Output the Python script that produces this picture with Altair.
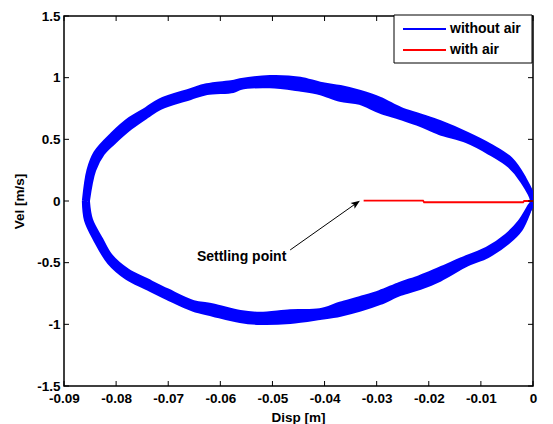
import altair as alt
import pandas as pd

# ---------------- data ----------------
x_ticks = [-0.09, -0.08, -0.07, -0.06, -0.05, -0.04, -0.03, -0.02, -0.01, 0]
y_ticks = [-1.5, -1, -0.5, 0, 0.5, 1, 1.5]

# "without air": band of limit cycles, outer and inner edge trajectories
upper_outer_x = [-0.0860, -0.0851, -0.0838, -0.0806, -0.0773, -0.0741, -0.0716, -0.0658, -0.0626, -0.0576,
                 -0.0562, -0.0505, -0.0447, -0.0409, -0.0370, -0.0332, -0.0294, -0.0255, -0.0217, -0.0179,
                 -0.0127, -0.0083, -0.0044, -0.0019, 0.0]
upper_outer_y = [0.0, 0.251, 0.389, 0.538, 0.659, 0.740, 0.808, 0.889, 0.930, 0.957,
                 0.971, 0.997, 0.984, 0.943, 0.916, 0.876, 0.821, 0.740, 0.687, 0.632,
                 0.538, 0.444, 0.335, 0.186, 0.0]
upper_inner_x = [-0.0856, -0.0844, -0.0827, -0.0806, -0.0773, -0.0741, -0.0716, -0.0658, -0.0626, -0.0576,
                 -0.0562, -0.0505, -0.0447, -0.0409, -0.0370, -0.0332, -0.0294, -0.0255, -0.0217, -0.0179,
                 -0.0127, -0.0083, -0.0044, -0.0019, 0.0]
upper_inner_y = [0.0, 0.251, 0.389, 0.478, 0.600, 0.695, 0.762, 0.843, 0.884, 0.900,
                 0.924, 0.938, 0.911, 0.884, 0.829, 0.803, 0.735, 0.681, 0.627, 0.559,
                 0.492, 0.397, 0.289, 0.162, 0.0]
lower_outer_x = [-0.0860, -0.0856, -0.0838, -0.0812, -0.0779, -0.0741, -0.0702, -0.0652, -0.0614, -0.0562,
                 -0.0524, -0.0466, -0.0409, -0.0370, -0.0332, -0.0294, -0.0255, -0.0217, -0.0179, -0.0127,
                 -0.0088, -0.0050, -0.0025, -0.0006, 0.0]
lower_outer_y = [0.0, -0.154, -0.316, -0.495, -0.616, -0.697, -0.778, -0.873, -0.914, -0.965,
                 -0.981, -0.973, -0.941, -0.914, -0.873, -0.819, -0.746, -0.697, -0.630, -0.508,
                 -0.440, -0.332, -0.225, -0.049, 0.0]
lower_inner_x = [-0.0856, -0.0850, -0.0830, -0.0812, -0.0779, -0.0741, -0.0702, -0.0652, -0.0614, -0.0562,
                 -0.0524, -0.0466, -0.0409, -0.0370, -0.0332, -0.0294, -0.0255, -0.0217, -0.0179, -0.0127,
                 -0.0088, -0.0050, -0.0025, -0.0006, 0.0]
lower_inner_y = [0.0, -0.154, -0.316, -0.448, -0.570, -0.651, -0.732, -0.827, -0.854, -0.908,
                 -0.922, -0.902, -0.894, -0.841, -0.795, -0.746, -0.679, -0.624, -0.557, -0.462,
                 -0.395, -0.286, -0.178, -0.049, 0.0]

# "with air"
air_x = [-0.0325, -0.0211, -0.0209, -0.0019, -0.0017, 0.0]
air_y = [0.003, 0.003, -0.010, -0.010, 0.0, 0.0]

# annotation
note_text = "Settling point"
note_x = [-0.0645]
note_y = [-0.486]
arrow_x = [-0.0466, -0.0340]
arrow_y = [-0.397, -0.021]

legend_labels = ["without air", "with air"]
colors = ["#0000ff", "#ff0000"]

# ---------------- build tables ----------------
def ring(ux, uy, lx, ly, name):
    px = list(ux) + list(reversed(lx))[1:]
    py = list(uy) + list(reversed(ly))[1:]
    return pd.DataFrame({"x": px, "y": py, "idx": list(range(len(px))), "ring": name})

outer_df = ring(upper_outer_x, upper_outer_y, lower_outer_x, lower_outer_y, "outer")
inner_df = ring(upper_inner_x, upper_inner_y, lower_inner_x, lower_inner_y, "inner")
air_df = pd.DataFrame({"x": air_x, "y": air_y, "idx": list(range(len(air_x)))})
xt_df = pd.DataFrame({"x": x_ticks})
yt_df = pd.DataFrame({"y": y_ticks})
note_df = pd.DataFrame({"x": note_x, "y": note_y, "t": [note_text]})
arrow_df = pd.DataFrame({"x": [arrow_x[0]], "y": [arrow_y[0]], "x2": [arrow_x[1]], "y2": [arrow_y[1]]})
head_df = pd.DataFrame({"x": [arrow_x[1]], "y": [arrow_y[1]]})
one_df = pd.DataFrame({"k": [0]})

W, H = 469, 370
FONT = "Liberation Sans"

xs = alt.Scale(domain=[-0.09, 0], nice=False, zero=False)
ys = alt.Scale(domain=[-1.5, 1.5], nice=False, zero=False)

x_axis = alt.Axis(values=x_ticks, title="Disp [m]", ticks=False, grid=False, domain=False,
                  labelExpr="'' + datum.value", labelFont=FONT, labelFontWeight="bold",
                  labelFontSize=13.5, labelColor="black", labelPadding=5, labelFlush=False,
                  labelOverlap=False, titleFont=FONT, titleFontWeight="bold", titleFontSize=13.5,
                  titleColor="black", titleX=234, titleY=35, titleAlign="center",
                  titleBaseline="alphabetic")
y_axis = alt.Axis(values=y_ticks, title="Vel [m/s]", ticks=False, grid=False, domain=False,
                  labelExpr="'' + datum.value", labelFont=FONT, labelFontWeight="bold",
                  labelFontSize=13.5, labelColor="black", labelPadding=4, labelFlush=False,
                  labelOverlap=False, titleFont=FONT, titleFontWeight="bold", titleFontSize=13.5,
                  titleColor="black", titleX=-45, titleY=185, titleAlign="center",
                  titleBaseline="middle", titleAngle=-90)

outer = alt.Chart(outer_df).mark_line(strokeWidth=6, interpolate="catmull-rom", stroke=colors[0],
                                      fill=colors[0], clip=True).encode(
    x=alt.X("x:Q", scale=xs, axis=x_axis),
    y=alt.Y("y:Q", scale=ys, axis=y_axis),
    order="idx:Q",
)
inner_fill = alt.Chart(inner_df).mark_line(strokeWidth=0, interpolate="catmull-rom", stroke="white",
                                           fill="white", clip=True).encode(
    x=alt.X("x:Q", scale=xs), y=alt.Y("y:Q", scale=ys), order="idx:Q")
inner = alt.Chart(inner_df).mark_line(strokeWidth=6, interpolate="catmull-rom", color=colors[0],
                                      clip=True).encode(
    x=alt.X("x:Q", scale=xs), y=alt.Y("y:Q", scale=ys), order="idx:Q")
air = alt.Chart(air_df).mark_line(strokeWidth=1.8, color=colors[1], clip=True).encode(
    x=alt.X("x:Q", scale=xs), y=alt.Y("y:Q", scale=ys), order="idx:Q"
)

tick_style = dict(color="black", strokeWidth=1)
bottom_ticks = alt.Chart(xt_df).mark_rule(**tick_style).encode(
    x=alt.X("x:Q", scale=xs), y=alt.value(H), y2=alt.value(H - 5))
top_ticks = alt.Chart(xt_df).mark_rule(**tick_style).encode(
    x=alt.X("x:Q", scale=xs), y=alt.value(0), y2=alt.value(5))
left_ticks = alt.Chart(yt_df).mark_rule(**tick_style).encode(
    y=alt.Y("y:Q", scale=ys), x=alt.value(0), x2=alt.value(5))
right_ticks = alt.Chart(yt_df).mark_rule(**tick_style).encode(
    y=alt.Y("y:Q", scale=ys), x=alt.value(W), x2=alt.value(W - 5))

arrow = alt.Chart(arrow_df).mark_rule(color="black", strokeWidth=1).encode(
    x=alt.X("x:Q", scale=xs), y=alt.Y("y:Q", scale=ys), x2="x2:Q", y2="y2:Q")
head = alt.Chart(head_df).mark_point(
    shape="M0,-1L0.7,0.8L0,0.4L-0.7,0.8Z", filled=True, size=100, angle=54.8,
    color="black", opacity=1, strokeWidth=0).encode(
    x=alt.X("x:Q", scale=xs), y=alt.Y("y:Q", scale=ys))
note = alt.Chart(note_df).mark_text(align="left", baseline="alphabetic", font=FONT, fontWeight="bold",
                                    fontSize=14, color="black").encode(
    x=alt.X("x:Q", scale=xs), y=alt.Y("y:Q", scale=ys), text="t:N")

# legend box (manual, MATLAB style)
leg_box = alt.Chart(one_df).mark_rect(fill="white", stroke="black", strokeWidth=1).encode(
    x=alt.value(330), x2=alt.value(W - 1), y=alt.value(-1), y2=alt.value(47))
leg_layers = [leg_box]
for label, col, yy in zip(legend_labels, colors, [13, 34]):
    leg_layers.append(alt.Chart(one_df).mark_rule(strokeWidth=2, color=col).encode(
        x=alt.value(339), x2=alt.value(382), y=alt.value(yy)))
    leg_layers.append(alt.Chart(one_df).mark_text(
        align="left", baseline="middle", font=FONT, fontWeight="bold", fontSize=14,
        color="black", text=label).encode(x=alt.value(386), y=alt.value(yy)))

chart = alt.layer(
    outer, inner_fill, inner, air, bottom_ticks, top_ticks, left_ticks, right_ticks,
    arrow, head, note, *leg_layers
).properties(
    width=W, height=H,
    autosize=alt.AutoSizeParams(type="none"),
    padding={"left": 56, "top": 8, "right": 12, "bottom": 38},
    background="white",
).configure_view(stroke="black", strokeWidth=1.5)

chart.save("out.html", embed_options={"renderer": "svg", "actions": False})
